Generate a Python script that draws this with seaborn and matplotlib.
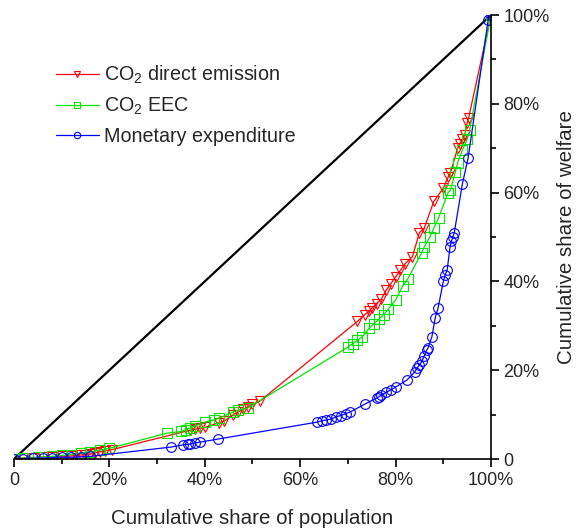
"""Lorenz curves: CO2 direct emission, CO2 EEC and monetary expenditure."""

import matplotlib

matplotlib.use("Agg")
import matplotlib.pyplot as plt
import seaborn as sns
from matplotlib.ticker import MultipleLocator, FuncFormatter

# --- data (cumulative share of population, cumulative share of welfare) ---
direct_x = [0.0, 0.02, 0.04, 0.06, 0.08, 0.10, 0.12, 0.13, 0.14, 0.15, 0.16,
            0.17, 0.18, 0.19, 0.205, 0.37, 0.38, 0.39, 0.40, 0.43, 0.44, 0.46,
            0.47, 0.48, 0.49, 0.50, 0.515, 0.72, 0.735, 0.745, 0.75, 0.76,
            0.77, 0.78, 0.79, 0.80, 0.81, 0.82, 0.835, 0.85, 0.86, 0.88, 0.90,
            0.91, 0.915, 0.93, 0.935, 0.94, 0.945, 0.95, 0.953, 1.0]
direct_y = [0.0, 0.002, 0.003, 0.004, 0.005, 0.006, 0.007, 0.008, 0.009, 0.010,
            0.011, 0.014, 0.016, 0.018, 0.021, 0.065, 0.067, 0.069, 0.071,
            0.082, 0.085, 0.100, 0.106, 0.112, 0.117, 0.123, 0.130, 0.310,
            0.325, 0.333, 0.340, 0.350, 0.360, 0.380, 0.395, 0.410, 0.425,
            0.440, 0.455, 0.510, 0.520, 0.580, 0.610, 0.635, 0.645, 0.700,
            0.710, 0.720, 0.730, 0.757, 0.768, 1.0]

eec_x = [0.0, 0.02, 0.05, 0.08, 0.10, 0.12, 0.14, 0.16, 0.18, 0.20, 0.32,
         0.35, 0.36, 0.37, 0.38, 0.40, 0.42, 0.43, 0.46, 0.47, 0.49, 0.70,
         0.71, 0.72, 0.73, 0.745, 0.755, 0.765, 0.775, 0.785, 0.80, 0.815,
         0.825, 0.855, 0.86, 0.872, 0.88, 0.89, 0.91, 0.915, 0.925, 0.93,
         0.94, 0.95, 0.955, 1.0]
eec_y = [0.0, 0.002, 0.004, 0.006, 0.008, 0.010, 0.013, 0.016, 0.020, 0.024,
         0.058, 0.062, 0.066, 0.070, 0.075, 0.083, 0.088, 0.092, 0.106, 0.110,
         0.115, 0.252, 0.260, 0.268, 0.275, 0.295, 0.305, 0.315, 0.325, 0.338,
         0.358, 0.390, 0.405, 0.465, 0.478, 0.500, 0.520, 0.543, 0.600, 0.606,
         0.646, 0.667, 0.696, 0.720, 0.740, 1.0]

money_x = [0.0, 0.02, 0.04, 0.06, 0.08, 0.10, 0.12, 0.14, 0.16, 0.33, 0.355,
           0.365, 0.37, 0.38, 0.39, 0.428, 0.635, 0.645, 0.655, 0.665, 0.675,
           0.685, 0.695, 0.705, 0.736, 0.76, 0.765, 0.77, 0.78, 0.79, 0.80,
           0.824, 0.84, 0.845, 0.85, 0.855, 0.86, 0.865, 0.868, 0.876, 0.883,
           0.889, 0.90, 0.904, 0.908, 0.914, 0.917, 0.92, 0.923, 0.94, 0.952,
           0.994, 1.0]
money_y = [0.0, 0.001, 0.002, 0.002, 0.003, 0.004, 0.004, 0.005, 0.006, 0.027,
           0.032, 0.033, 0.034, 0.036, 0.038, 0.045, 0.083, 0.086, 0.088,
           0.090, 0.095, 0.098, 0.102, 0.106, 0.124, 0.137, 0.140, 0.144,
           0.150, 0.156, 0.162, 0.178, 0.196, 0.205, 0.212, 0.220, 0.232,
           0.245, 0.250, 0.275, 0.318, 0.340, 0.400, 0.415, 0.425, 0.477,
           0.490, 0.500, 0.510, 0.620, 0.678, 0.989, 1.0]

equality = [0.0, 1.0]

SERIES = [
    ("CO$_2$ direct emission", direct_x, direct_y, "#FF0000", "v", 7.5),
    ("CO$_2$ EEC", eec_x, eec_y, "#00E400", "s", 6.5),
    ("Monetary expenditure", money_x, money_y, "#0000FF", "o", 7),
]

sns.set_style("white")
plt.rcParams["font.family"] = ["Liberation Sans", "DejaVu Sans"]
plt.rcParams["mathtext.fontset"] = "custom"
plt.rcParams["mathtext.rm"] = "Liberation Sans"
plt.rcParams["mathtext.it"] = "Liberation Sans:italic"

fig = plt.figure(figsize=(5.8, 5.29), dpi=100)
ax = fig.add_axes([0.024, 0.1323, 0.8226, 0.8393])

sns.lineplot(x=equality, y=equality, color="black", linewidth=1.6, ax=ax)

for label, xs, ys, color, marker, size in SERIES:
    sns.lineplot(
        x=xs,
        y=ys,
        color=color,
        linewidth=0.9,
        marker=marker,
        markersize=size,
        markerfacecolor="none",
        markeredgecolor=color,
        markeredgewidth=0.8,
        label=label,
        ax=ax,
    )

ax.set_xlim(0, 1)
ax.set_ylim(0, 1)
for side in ("top", "left"):
    ax.spines[side].set_visible(False)
for side in ("bottom", "right"):
    ax.spines[side].set_color("black")
    ax.spines[side].set_linewidth(1.2)

pct = FuncFormatter(lambda v, _: "0" if abs(v) < 1e-9 else f"{v * 100:.0f}%")
for axis in (ax.xaxis, ax.yaxis):
    axis.set_major_locator(MultipleLocator(0.2))
    axis.set_minor_locator(MultipleLocator(0.1))
    axis.set_major_formatter(pct)
ax.yaxis.tick_right()
ax.yaxis.set_label_position("right")
ax.tick_params(which="major", direction="out", length=6, width=1.2,
               labelsize=13, color="black", pad=3)
ax.tick_params(which="minor", direction="out", length=3.5, width=1.2,
               color="black")
ax.tick_params(axis="x", which="both", bottom=True, top=False)
ax.tick_params(axis="y", which="both", right=True, left=False)

ax.set_xlabel("Cumulative share of population", fontsize=14.8, labelpad=15)
ax.set_ylabel("Cumulative share of welfare", fontsize=14.8, labelpad=5,
              rotation=90)

ax.legend(
    loc="upper left",
    bbox_to_anchor=(0.05, 0.93),
    frameon=False,
    fontsize=14.2,
    handlelength=2.2,
    handletextpad=0.25,
    labelspacing=0.5,
    markerscale=0.65,
)

fig.savefig("out.png", dpi=100)
